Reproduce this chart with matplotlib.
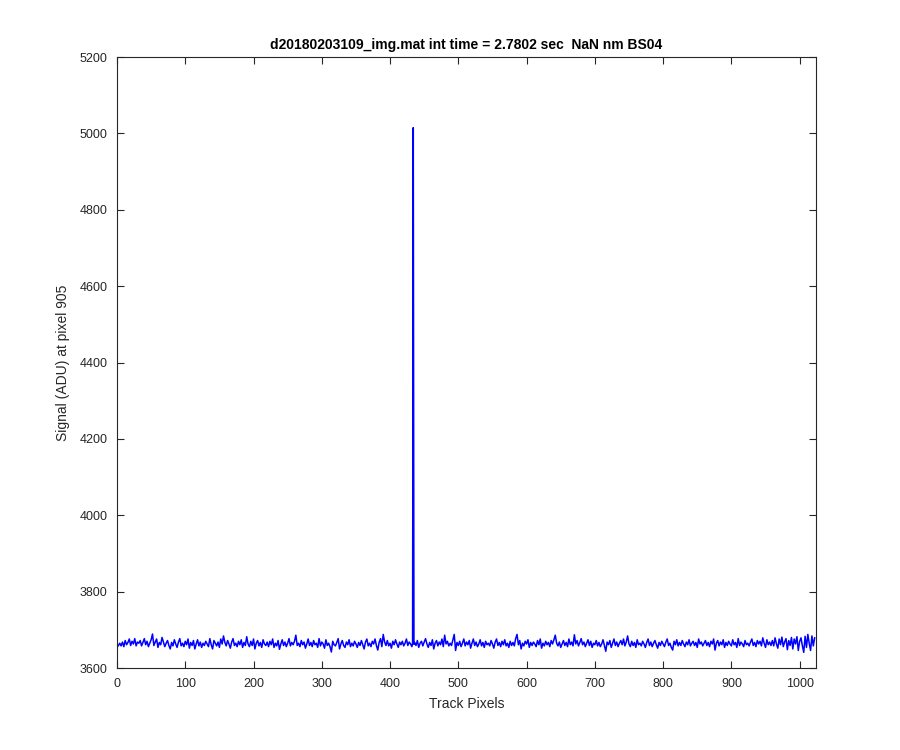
import numpy as np
import matplotlib
matplotlib.use("Agg")
import matplotlib.pyplot as plt

# Signal, one value every other track pixel (0, 2, ..., 1022)
track_step = 2
signal_adu = [
    3654, 3659, 3665, 3658, 3668, 3656, 3672, 3661, 3667, 3676, 3659, 3670, 3663, 3677, 3658, 3668,
    3665, 3672, 3658, 3667, 3677, 3661, 3670, 3656, 3665, 3674, 3689, 3659, 3668, 3676, 3654, 3667,
    3661, 3680, 3668, 3656, 3665, 3672, 3659, 3650, 3667, 3658, 3674, 3663, 3654, 3668, 3677, 3658,
    3665, 3656, 3670, 3661, 3676, 3652, 3667, 3659, 3672, 3650, 3663, 3674, 3658, 3668, 3654, 3665,
    3659, 3670, 3663, 3656, 3677, 3661, 3650, 3672, 3665, 3658, 3668, 3654, 3676, 3663, 3684, 3667,
    3658, 3672, 3663, 3652, 3668, 3677, 3659, 3665, 3656, 3670, 3661, 3674, 3654, 3667, 3659, 3682,
    3663, 3656, 3670, 3659, 3676, 3650, 3665, 3672, 3658, 3667, 3654, 3674, 3663, 3659, 3668, 3656,
    3670, 3661, 3676, 3654, 3665, 3658, 3672, 3649, 3663, 3674, 3659, 3668, 3656, 3665, 3677, 3658,
    3667, 3661, 3670, 3686, 3659, 3665, 3656, 3672, 3661, 3668, 3652, 3663, 3676, 3659, 3667, 3656,
    3672, 3661, 3665, 3654, 3677, 3658, 3668, 3663, 3652, 3674, 3659, 3665, 3656, 3642, 3670, 3661,
    3658, 3667, 3677, 3650, 3663, 3672, 3659, 3654, 3668, 3661, 3674, 3656, 3665, 3658, 3670, 3663,
    3654, 3667, 3659, 3672, 3661, 3650, 3668, 3676, 3658, 3665, 3656, 3670, 3663, 3676, 3659, 3647,
    3667, 3677, 3656, 3688, 3668, 3659, 3672, 3658, 3665, 3652, 3670, 3661, 3674, 3663, 3654, 3668,
    3661, 3670, 3658, 3665, 3676, 3659, 3668, 3663, 3656, 5015, 3667, 3659, 3672, 3654, 3665, 3670,
    3658, 3668, 3677, 3663, 3654, 3667, 3659, 3674, 3650, 3665, 3672, 3658, 3668, 3661, 3676, 3656,
    3686, 3663, 3670, 3658, 3665, 3659, 3674, 3688, 3646, 3667, 3659, 3670, 3656, 3665, 3676, 3658,
    3668, 3661, 3672, 3652, 3665, 3676, 3659, 3668, 3656, 3663, 3674, 3658, 3667, 3654, 3670, 3661,
    3665, 3658, 3672, 3663, 3652, 3668, 3676, 3659, 3667, 3656, 3670, 3661, 3674, 3658, 3665, 3654,
    3670, 3659, 3667, 3658, 3677, 3688, 3661, 3672, 3650, 3665, 3658, 3670, 3663, 3674, 3654, 3667,
    3659, 3668, 3663, 3656, 3672, 3661, 3676, 3652, 3665, 3658, 3670, 3661, 3667, 3656, 3672, 3663,
    3674, 3686, 3665, 3658, 3668, 3654, 3663, 3672, 3659, 3667, 3656, 3676, 3661, 3668, 3658, 3687,
    3663, 3672, 3658, 3667, 3677, 3661, 3668, 3656, 3665, 3674, 3659, 3670, 3654, 3665, 3661, 3672,
    3658, 3667, 3656, 3663, 3674, 3659, 3644, 3668, 3661, 3672, 3654, 3665, 3676, 3659, 3668, 3656,
    3665, 3672, 3661, 3676, 3658, 3668, 3684, 3663, 3656, 3670, 3659, 3667, 3654, 3674, 3661, 3665,
    3658, 3670, 3663, 3654, 3667, 3676, 3659, 3668, 3656, 3665, 3672, 3661, 3652, 3667, 3659, 3670,
    3663, 3656, 3668, 3676, 3659, 3665, 3654, 3647, 3670, 3661, 3674, 3658, 3667, 3659, 3672, 3663,
    3656, 3668, 3661, 3674, 3658, 3665, 3670, 3659, 3667, 3654, 3676, 3663, 3668, 3658, 3665, 3672,
    3659, 3667, 3656, 3670, 3663, 3676, 3647, 3665, 3672, 3658, 3668, 3661, 3674, 3654, 3667, 3659,
    3670, 3663, 3658, 3674, 3661, 3667, 3654, 3677, 3659, 3668, 3663, 3656, 3672, 3661, 3665, 3658,
    3668, 3676, 3659, 3667, 3656, 3672, 3663, 3670, 3658, 3679, 3665, 3654, 3674, 3661, 3668, 3659,
    3672, 3658, 3679, 3663, 3652, 3676, 3661, 3681, 3656, 3668, 3677, 3648, 3672, 3659, 3680, 3650,
    3676, 3663, 3682, 3646, 3670, 3679, 3658, 3641, 3683, 3654, 3688, 3665, 3646, 3684, 3658, 3679,
]
# the pixels right beside the hot pixel at 434
spike_side_pixels = [433, 435]
spike_side_adu = [3665, 3662]

title_text = "d20180203109_img.mat int time = 2.7802 sec  NaN nm BS04"
x_ticks = [0, 100, 200, 300, 400, 500, 600, 700, 800, 900, 1000]
y_ticks = [3600, 3800, 4000, 4200, 4400, 4600, 4800, 5000, 5200]

track_pixels = np.concatenate([np.arange(len(signal_adu)) * track_step, spike_side_pixels])
signal = np.concatenate([signal_adu, spike_side_adu])
order = np.argsort(track_pixels)
track_pixels, signal = track_pixels[order], signal[order]

plt.rcParams["font.family"] = ["Liberation Sans", "DejaVu Sans"]

fig = plt.figure(figsize=(9, 7.5), dpi=100)
ax = fig.add_axes([0.13, 0.1093, 0.7767, 0.8147])

ax.plot(track_pixels, signal, color=(0, 0, 1), linewidth=1.1)

ax.set_xlim(0, 1024)
ax.set_ylim(3600, 5200)
ax.set_xticks(x_ticks)
ax.set_yticks(y_ticks)

dark = (0.15, 0.15, 0.15)
for s in ax.spines.values():
    s.set_color(dark)
    s.set_linewidth(0.8)
ax.tick_params(direction="in", length=5, width=0.8, colors=dark,
               top=True, right=True, labelsize=9, pad=7)

ax.set_xlabel("Track Pixels", fontsize=10, color=dark, labelpad=5)
ax.set_ylabel("Signal (ADU) at pixel 905", fontsize=10, color=dark, labelpad=7)
ax.set_title(title_text, fontsize=10, fontweight="bold", color="black", pad=6)

fig.savefig("out.png", dpi=100, facecolor="white")
